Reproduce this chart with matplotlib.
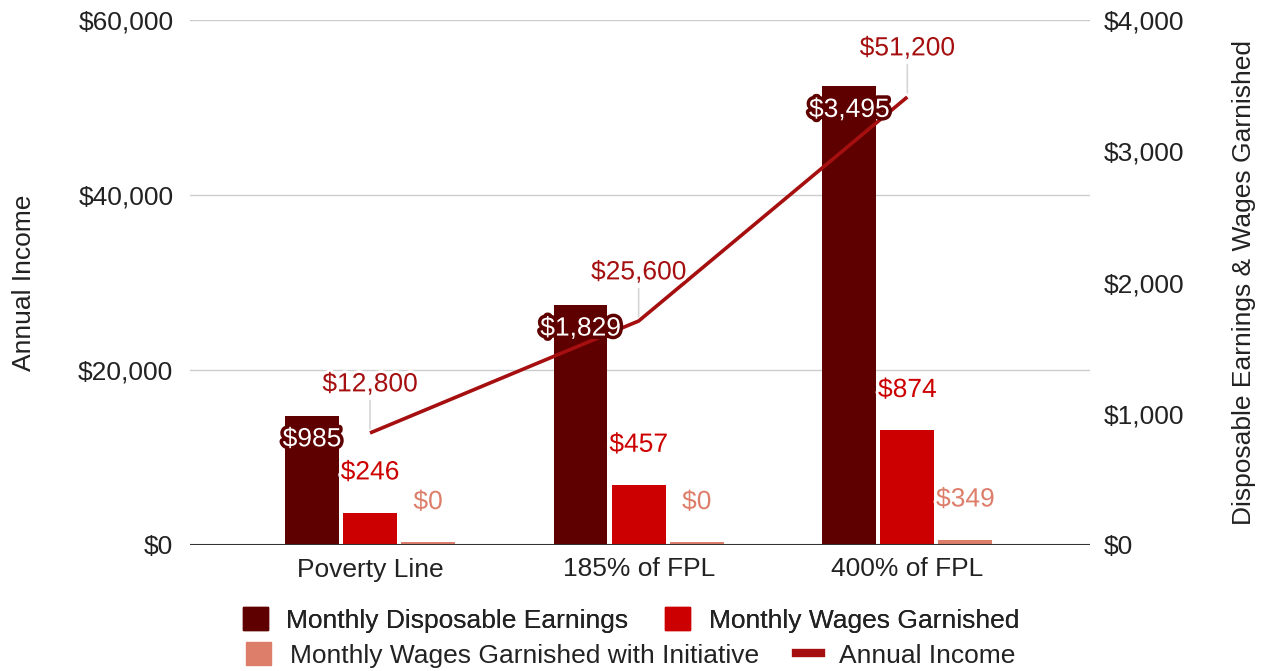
import numpy as np
import matplotlib
matplotlib.use("Agg")
import matplotlib.pyplot as plt
import matplotlib.patheffects as pe
from matplotlib.patches import Patch
from matplotlib.lines import Line2D

#========================================================
# data
#========================================================
categories = ["Poverty Line", "185% of FPL", "400% of FPL"]
disposable = [985, 1829, 3495]              # monthly disposable earnings (right axis)
garnished = [246, 457, 874]                 # monthly wages garnished (right axis)
garnished_init = [20, 20, 40]               # bar heights as drawn
garnished_init_labels = ["$0", "$0", "$349"]
annual_income = [12800, 25600, 51200]       # line, left axis

left_ticks = [0, 20000, 40000, 60000]
right_ticks = [0, 1000, 2000, 3000, 4000]

c_dark = "#5e0000"
c_red = "#cc0000"
c_salmon = "#dd7e6b"
c_line = "#a50f0f"
c_text = "#222222"

plt.rcParams["font.family"] = ["Liberation Sans", "DejaVu Sans"]
fs = 19

def money(v):
    return f"${v:,.0f}"

fig = plt.figure(figsize=(12.62, 6.71), dpi=100)
ax = fig.add_axes([190 / 1262, 1 - 545 / 671, 900 / 1262, 525 / 671])
ax2 = ax.twinx()

x = np.arange(len(categories))
w = 0.2
off = 0.216

# left axis: gridlines only
ax.set_ylim(0, 60000)
ax.set_xlim(-0.67, 2.68)
ax.set_yticks(left_ticks)
ax.set_yticklabels([money(v) for v in left_ticks])
ax.grid(axis="y", color="#cccccc", linewidth=1)
ax.set_axisbelow(True)
for s in ax.spines.values():
    s.set_visible(False)
ax.tick_params(axis="y", length=0, pad=12, labelsize=fs, labelcolor=c_text)
ax.tick_params(axis="x", length=0, pad=9, labelsize=fs, labelcolor=c_text)
ax.set_xticks(x)
ax.set_xticklabels(categories)
ax.set_ylabel("Annual Income", fontsize=fs, color=c_text, labelpad=30)

# right axis: bars
ax2.set_ylim(0, 4000)
ax2.set_yticks(right_ticks)
ax2.set_yticklabels([money(v) for v in right_ticks])
for s in ax2.spines.values():
    s.set_visible(False)
ax2.tick_params(axis="y", length=0, pad=10, labelsize=fs, labelcolor=c_text)
ax2.set_ylabel("Disposable Earnings & Wages Garnished", fontsize=fs, color=c_text,
               labelpad=34)

b1 = ax2.bar(x - off, disposable, w, color=c_dark, zorder=2)
b2 = ax2.bar(x, garnished, w, color=c_red, zorder=2)
b3 = ax2.bar(x + off, garnished_init, w, color=c_salmon, zorder=2)
ax2.axhline(0, color="#333333", linewidth=1.5, zorder=3)

# income line drawn in left-axis units, on top of the bars
ax2.plot(x, annual_income, color=c_line, linewidth=2.6, transform=ax.transData,
         zorder=4, solid_capstyle="butt")

halo_w = [pe.withStroke(linewidth=4, foreground="white")]
halo_d = [pe.withStroke(linewidth=5, foreground=c_dark)]

for xi, v in zip(x, disposable):
    ax2.annotate(money(v), (xi - off, v), xytext=(0, -17), textcoords="offset points",
                 ha="center", va="center", fontsize=fs, color="white",
                 path_effects=halo_d, zorder=6)
for xi, v in zip(x, garnished):
    ax2.annotate(money(v), (xi, v), xytext=(0, 29), textcoords="offset points",
                 ha="center", va="center", fontsize=fs, color=c_red,
                 path_effects=halo_w, zorder=6)
for xi, v, lab in zip(x, garnished_init, garnished_init_labels):
    ax2.annotate(lab, (xi + off, v), xytext=(0, 29), textcoords="offset points",
                 ha="center", va="center", fontsize=fs, color=c_salmon,
                 path_effects=halo_w, zorder=6)
for xi, v in zip(x, annual_income):
    ax2.annotate(money(v), (xi, v), xycoords=ax.transData, xytext=(0, 35),
                 textcoords="offset points", ha="center", va="center", fontsize=fs,
                 color=c_line, path_effects=halo_w, zorder=5,
                 arrowprops=dict(arrowstyle="-", color="#d6d6d6", linewidth=1.2,
                                 shrinkA=1, shrinkB=3))

# legend, two centred rows
leg_kw = dict(loc="center", ncol=2, frameon=False, fontsize=fs, handlelength=0.95,
              handleheight=0.95, handletextpad=0.7, columnspacing=1.4,
              labelcolor=c_text, borderaxespad=0, borderpad=0)
leg1 = fig.legend(handles=[Patch(color=c_dark, label="Monthly Disposable Earnings"),
                           Patch(color=c_red, label="Monthly Wages Garnished")],
                  bbox_to_anchor=(0.5, 1 - 620 / 671), **leg_kw)
fig.add_artist(leg1)
fig.legend(handles=[Patch(color=c_salmon, label="Monthly Wages Garnished with Initiative"),
                    Line2D([], [], color=c_line, linewidth=6, label="Annual Income")],
           bbox_to_anchor=(0.5, 1 - 655 / 671), **leg_kw)

fig.savefig("out.png", dpi=100)
